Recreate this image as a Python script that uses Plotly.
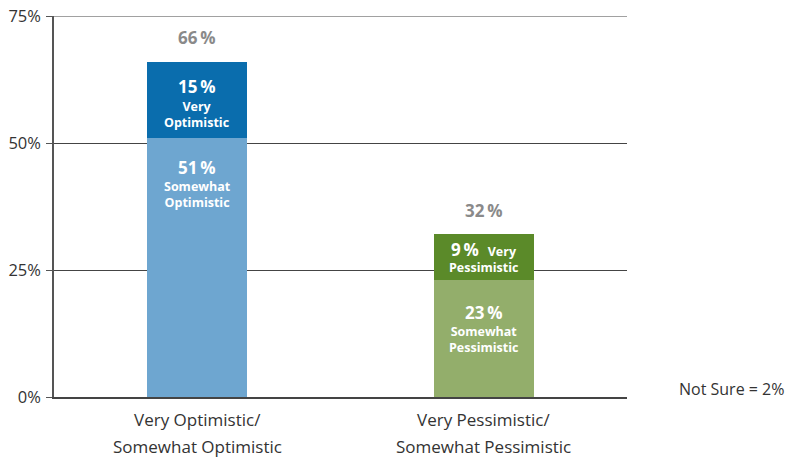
import plotly.graph_objects as go

categories = ["Very Optimistic/ Somewhat Optimistic", "Very Pessimistic/ Somewhat Pessimistic"]
category_line1 = ["Very Optimistic/", "Very Pessimistic/"]
category_line2 = ["Somewhat Optimistic", "Somewhat Pessimistic"]
somewhat_values = [51, 23]
very_values = [15, 9]
totals = [66, 32]
somewhat_labels = ["Somewhat<br>Optimistic", "Somewhat<br>Pessimistic"]
very_labels = ["Very<br>Optimistic", "Pessimistic"]
very_inline = ["", "Very"]
y_ticks = [0, 25, 50, 75]
y_tick_labels = ["0%", "25%", "50%", "75%"]
not_sure_note = "Not Sure = 2%"

FONT = "Open Sans"
light_colors = ["#6ea6d0", "#93ae6b"]
dark_colors = ["#0a6dad", "#5b8a29"]
TS = "\u2009"  # thin space between number and percent sign

fig = go.Figure()
fig.add_trace(go.Bar(x=categories, y=somewhat_values, marker=dict(color=light_colors, line=dict(width=0)),
                     width=0.35, hoverinfo="skip"))
fig.add_trace(go.Bar(x=categories, y=very_values, marker=dict(color=dark_colors, line=dict(width=0)),
                     width=0.35, hoverinfo="skip"))

annotations = []
# pixel offsets (style), per bar
pct_shift_top = [-25, -15]
desc_shift_top = [-53, -33]
pct_shift_bot = [-30, -32]
desc_shift_bot = [-57, -59]
for i, cat in enumerate(categories):
    top_very = somewhat_values[i] + very_values[i]
    annotations.append(dict(x=cat, y=totals[i], text=f"<b>{totals[i]}{TS}%</b>", showarrow=False,
                            yshift=24, font=dict(family=FONT, size=17, color="#8a8a8a")))
    pct_text = f"<b>{very_values[i]}{TS}%</b>"
    if very_inline[i]:
        pct_text += f"  <b><span style='font-size:12.5px'>{very_inline[i]}</span></b>"
    annotations.append(dict(x=cat, y=top_very, text=pct_text, showarrow=False, yshift=pct_shift_top[i],
                            font=dict(family=FONT, size=17, color="white")))
    annotations.append(dict(x=cat, y=top_very, text=f"<b>{very_labels[i]}</b>", showarrow=False,
                            yshift=desc_shift_top[i], font=dict(family=FONT, size=12.5, color="white")))
    annotations.append(dict(x=cat, y=somewhat_values[i], text=f"<b>{somewhat_values[i]}{TS}%</b>", showarrow=False,
                            yshift=pct_shift_bot[i], font=dict(family=FONT, size=17, color="white")))
    annotations.append(dict(x=cat, y=somewhat_values[i], text=f"<b>{somewhat_labels[i]}</b>", showarrow=False,
                            yshift=desc_shift_bot[i], font=dict(family=FONT, size=12.5, color="white")))
    # category labels (two lines, wider spacing than tick labels allow)
    annotations.append(dict(x=cat, y=0, text=category_line1[i], showarrow=False, yanchor="middle",
                            yshift=-22, font=dict(family=FONT, size=17, color="#333")))
    annotations.append(dict(x=cat, y=0, text=category_line2[i], showarrow=False, yanchor="middle",
                            yshift=-49, font=dict(family=FONT, size=17, color="#333")))

annotations.append(dict(xref="paper", yref="paper", x=1.2775, y=0.02, xanchor="right", yanchor="middle",
                        text=not_sure_note, showarrow=False, font=dict(family=FONT, size=16, color="#333")))

fig.update_layout(
    barmode="stack",
    width=789, height=462,
    margin=dict(l=54, r=162, t=16, b=65, autoexpand=False),
    paper_bgcolor="white", plot_bgcolor="white",
    showlegend=False,
    font=dict(family=FONT, size=15, color="#333"),
    annotations=annotations,
    shapes=[dict(type="line", xref="paper", x0=0, x1=1, yref="y", y0=max(y_ticks), y1=max(y_ticks),
                 line=dict(color="#444", width=1))],
    xaxis=dict(showline=True, linecolor="#444", linewidth=1.5, showgrid=False, ticks="", automargin=False,
               showticklabels=False, fixedrange=True),
    yaxis=dict(range=[0, max(y_ticks)], tickvals=y_ticks, ticktext=y_tick_labels, showline=True, linecolor="#555",
               linewidth=1.5, showgrid=True, gridcolor="#444", gridwidth=1, ticks="outside", ticklen=6,
               tickcolor="#555", tickfont=dict(family=FONT, size=16.5, color="#333"), zeroline=False,
               ticklabelstandoff=2, automargin=False, ticklabeloverflow="allow", fixedrange=True),
)
fig.write_html("out.html", config={"displayModeBar": False},
               post_script="document.body.style.margin='0';document.body.style.overflow='hidden';")
